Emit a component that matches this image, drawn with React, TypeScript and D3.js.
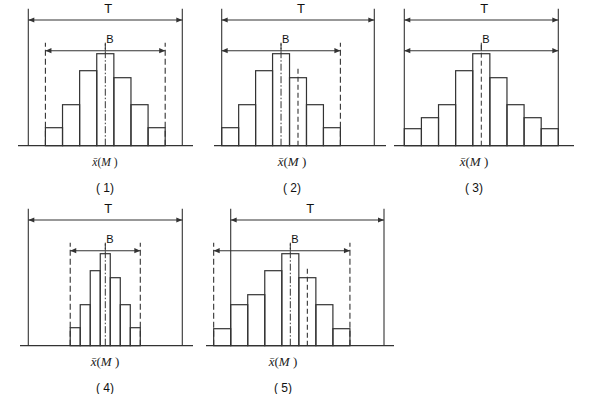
import React, { useEffect, useRef } from 'react';
import { select, scaleLinear, line } from 'd3';

// bar frequencies (arbitrary units, peak ~ 92)
const freq1 = [18, 41, 75, 92, 68, 41, 18];
const freq2 = [18, 41, 75, 92, 68, 41, 18];
const freq3 = [17, 28, 41, 75, 92, 68, 41, 28, 17];
const freq4 = [18, 41, 75, 92, 68, 41, 18];
const freq5 = [17, 41, 51, 75, 92, 68, 41, 17];

// bins in tolerance units (T spans 0..9)
const binStart = [1, 0, 0, 2.45, -1];
const binWidth = [1, 1, 1, 0.585, 1];
const tolLimits = [0, 9];
const centerLine = [4.5, 3.5, 4.5, 4.5, 3.5];   // distribution centre x̄(M)
const tolCenter = 4.5;
const captions = ['( 1)', '( 2)', '( 3)', '( 4)', '( 5)'];

// layout of the five panels (pixels)
const layout = [
  { left: 28.3, right: 182.3, base: 145.7, axis: [18, 193], capX: 105, capSize: 11.5 },
  { left: 221.7, right: 374.3, base: 145.7, axis: [214, 386], capX: 292, capSize: 13 },
  { left: 404.3, right: 558.3, base: 145.7, axis: [394, 574], capX: 474, capSize: 13 },
  { left: 28.3, right: 182.3, base: 345.7, axis: [20, 193], capX: 105, capSize: 13 },
  { left: 230.7, right: 384, base: 345.7, axis: [206, 394], capX: 283, capSize: 13 },
];

const INK = '#333';

export default function App() {
  const ref = useRef<SVGSVGElement>(null);

  useEffect(() => {
    const svg = select(ref.current);
    svg.selectAll('*').remove();
    const freqs = [freq1, freq2, freq3, freq4, freq5];

    freqs.forEach((freq, i) => {
      const L = layout[i];
      const x = scaleLinear().domain(tolLimits).range([L.left, L.right]);
      const y = scaleLinear().domain([0, 100]).range([L.base, L.base - 100]);
      const g = svg.append('g');
      const path = line<[number, number]>();

      // baseline
      g.append('line')
        .attr('x1', L.axis[0]).attr('x2', L.axis[1])
        .attr('y1', L.base).attr('y2', L.base)
        .attr('stroke', INK).attr('stroke-width', 1.3);

      // bars
      g.selectAll('rect.bar')
        .data(freq)
        .enter()
        .append('rect')
        .attr('x', (d, j) => x(binStart[i] + j * binWidth[i]))
        .attr('y', d => y(d))
        .attr('width', x(binWidth[i]) - x(0))
        .attr('height', d => y(0) - y(d))
        .attr('fill', 'none')
        .attr('stroke', INK)
        .attr('stroke-width', 1.2);

      // tolerance lines T
      tolLimits.forEach(t => {
        g.append('line')
          .attr('x1', x(t)).attr('x2', x(t))
          .attr('y1', y(0)).attr('y2', y(137))
          .attr('stroke', INK).attr('stroke-width', 1.1);
      });

      // dispersion limits B (dashed)
      const bLo = binStart[i];
      const bHi = binStart[i] + freq.length * binWidth[i];
      [bLo, bHi].forEach(b => {
        if (b === tolLimits[0] || b === tolLimits[1]) return;
        g.append('line')
          .attr('x1', x(b)).attr('x2', x(b))
          .attr('y1', y(0)).attr('y2', y(103))
          .attr('stroke', INK).attr('stroke-width', 1.1)
          .attr('stroke-dasharray', '6,3');
      });

      // arrows
      const arrow = (x0: number, x1: number, yy: number) => {
        g.append('path')
          .attr('d', path([[x0, yy], [x1, yy]]))
          .attr('stroke', INK).attr('stroke-width', 1.1);
        g.append('path')
          .attr('d', `M${x0},${yy}l6,-2.6v5.2z`).attr('fill', INK);
        g.append('path')
          .attr('d', `M${x1},${yy}l-6,-2.6v5.2z`).attr('fill', INK);
      };
      arrow(x(tolLimits[0]), x(tolLimits[1]), y(125.7));
      arrow(x(bLo), x(bHi), y(95));

      // centre line of distribution (dash-dot)
      g.append('line')
        .attr('x1', x(centerLine[i])).attr('x2', x(centerLine[i]))
        .attr('y1', y(0)).attr('y2', y(102))
        .attr('stroke', INK).attr('stroke-width', 1)
        .attr('stroke-dasharray', i === 2 ? '5,3' : '7,2,1.5,2');
      // small solid tick above the B arrow
      g.append('line')
        .attr('x1', x(centerLine[i])).attr('x2', x(centerLine[i]))
        .attr('y1', y(95)).attr('y2', y(103))
        .attr('stroke', INK).attr('stroke-width', 1);

      // tolerance centre (dashed) when shifted
      if (centerLine[i] !== tolCenter) {
        g.append('line')
          .attr('x1', x(tolCenter)).attr('x2', x(tolCenter))
          .attr('y1', y(0)).attr('y2', y(79))
          .attr('stroke', INK).attr('stroke-width', 1.1)
          .attr('stroke-dasharray', '5,3');
      }

      // labels
      g.append('text')
        .attr('x', (x(tolLimits[0]) + x(tolLimits[1])) / 2 + 3)
        .attr('y', y(133))
        .attr('text-anchor', 'middle')
        .attr('font-family', 'Liberation Sans, Arial, sans-serif')
        .attr('font-size', 13)
        .attr('fill', '#111')
        .text('T');

      g.append('text')
        .attr('x', x(centerLine[i]) + 1)
        .attr('y', y(102.5))
        .attr('font-family', 'Liberation Sans, Arial, sans-serif')
        .attr('font-size', 11)
        .attr('fill', '#111')
        .text('B');

      const cap = g.append('text')
        .attr('x', L.capX)
        .attr('y', L.base + 20)
        .attr('text-anchor', 'middle')
        .attr('font-family', 'Liberation Serif, Times New Roman, serif')
        .attr('font-size', L.capSize)
        .attr('fill', '#222');
      cap.append('tspan').attr('font-style', 'italic').text('x\u0304');
      cap.append('tspan').text('(');
      cap.append('tspan').attr('font-style', 'italic').text('M');
      cap.append('tspan').text(' )');

      g.append('text')
        .attr('x', L.capX)
        .attr('y', L.base + 46)
        .attr('text-anchor', 'middle')
        .attr('font-family', 'Liberation Sans, Arial, sans-serif')
        .attr('font-size', 12)
        .attr('fill', '#111')
        .text(captions[i]);
    });
  }, []);

  return (
    <div>
      <svg ref={ref} width={603} height={394}
        style={{ position: 'absolute', left: 0, top: 0, background: '#fff' }} />
    </div>
  );
}
